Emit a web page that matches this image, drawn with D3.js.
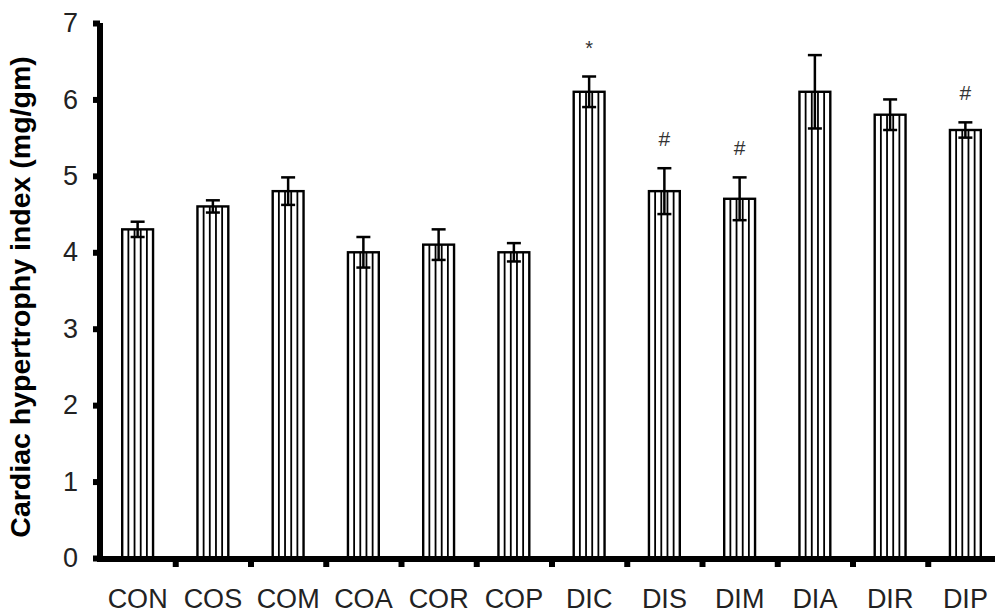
<!DOCTYPE html>
<html>
<head>
<meta charset="utf-8">
<script src="https://cdn.jsdelivr.net/npm/d3@7"></script>
<style>
  html, body { margin: 0; padding: 0; background: #fff; }
  svg { display: block; }
  text { font-family: "Liberation Sans", Arial, sans-serif; }
</style>
</head>
<body>
<svg id="chart" width="995" height="616"></svg>
<script>
// ---- data ----
const categories = ["CON", "COS", "COM", "COA", "COR", "COP", "DIC", "DIS", "DIM", "DIA", "DIR", "DIP"];
const values     = [4.3, 4.6, 4.8, 4.0, 4.1, 4.0, 6.1, 4.8, 4.7, 6.1, 5.8, 5.6];
const errors     = [0.1, 0.08, 0.18, 0.2, 0.2, 0.12, 0.2, 0.3, 0.28, 0.48, 0.2, 0.1];
const marks      = ["", "", "", "", "", "", "*", "#", "#", "", "", "#"];
const yTicks     = [0, 1, 2, 3, 4, 5, 6, 7];
const yTitle     = "Cardiac hypertrophy index (mg/gm)";

// ---- layout ----
const svg = d3.select("#chart");
const x0 = 100, x1 = 1003, yBase = 558, yTop = 23;

const x = d3.scaleBand()
  .domain(categories)
  .range([x0, x1])
  .paddingInner(0.59)
  .paddingOuter(0.295);

const y = d3.scaleLinear().domain([0, 7]).range([yBase, yTop]);

const rows = categories.map((c, i) => ({ c, v: values[i], e: errors[i], m: marks[i] }));

// bars
const bw = x.bandwidth();
const g = svg.append("g");
rows.forEach(d => {
  const bx = x(d.c), by = y(d.v), bh = yBase - by;
  const bar = g.append("g");
  // inner vertical stripes
  for (let k = 1; k <= 4; k++) {
    bar.append("line")
      .attr("x1", bx + k * bw / 5).attr("x2", bx + k * bw / 5)
      .attr("y1", by).attr("y2", yBase)
      .attr("stroke", "#000").attr("stroke-width", 1.8);
  }
  bar.append("rect")
    .attr("x", bx).attr("y", by)
    .attr("width", bw).attr("height", bh)
    .attr("fill", "none").attr("stroke", "#000").attr("stroke-width", 2.4);
  // error bar
  const cx = bx + bw / 2, capW = 14;
  const yHi = y(d.v + d.e), yLo = y(d.v - d.e);
  bar.append("line").attr("x1", cx).attr("x2", cx).attr("y1", yHi).attr("y2", yLo)
    .attr("stroke", "#000").attr("stroke-width", 2.5);
  [yHi, yLo].forEach(yy => bar.append("line")
    .attr("x1", cx - capW / 2).attr("x2", cx + capW / 2).attr("y1", yy).attr("y2", yy)
    .attr("stroke", "#000").attr("stroke-width", 2.5));
  if (d.m) {
    bar.append("text")
      .attr("x", cx).attr("y", yHi - 22)
      .attr("text-anchor", "middle")
      .attr("font-size", d.m === "*" ? 20 : 21)
      .attr("fill", "#333")
      .text(d.m);
  }
});

// y axis
const yAxis = d3.axisLeft(y).tickValues(yTicks).tickSize(7).tickPadding(15).tickFormat(d3.format("d"));
const ya = svg.append("g").attr("transform", `translate(${x0},0)`).call(yAxis);
ya.select(".domain").attr("stroke", "#000").attr("stroke-width", 6).attr("d", `M0,${yTop}V${yBase + 3}`);
ya.selectAll(".tick line").attr("stroke", "#000").attr("stroke-width", 6);
ya.selectAll(".tick text").attr("font-size", 27).attr("fill", "#222").attr("font-family", "Liberation Sans, Arial, sans-serif");

// x axis: line with ticks between categories, labels centered
const xb = d3.scaleLinear().domain([0, categories.length]).range([x0, x1]);
const xTickAxis = d3.axisBottom(xb).tickValues(d3.range(1, categories.length)).tickSize(8).tickFormat("");
const xa = svg.append("g").attr("transform", `translate(0,${yBase + 1})`).call(xTickAxis);
xa.select(".domain").attr("stroke", "#000").attr("stroke-width", 6).attr("d", `M${x0 - 3},0H${x1}`);
xa.selectAll(".tick line").attr("stroke", "#000").attr("stroke-width", 6);

const xLabelAxis = d3.axisBottom(x).tickSize(0).tickPadding(31);
const xl = svg.append("g").attr("transform", `translate(0,${yBase})`).call(xLabelAxis);
xl.select(".domain").remove();
xl.selectAll(".tick text").attr("font-size", 27).attr("fill", "#222").attr("font-family", "Liberation Sans, Arial, sans-serif");

// y title
svg.append("text")
  .attr("transform", `translate(30,297) rotate(-90)`)
  .attr("text-anchor", "middle")
  .attr("font-size", 28.5)
  .attr("font-weight", "bold")
  .attr("fill", "#000")
  .text(yTitle);
</script>
</body>
</html>
